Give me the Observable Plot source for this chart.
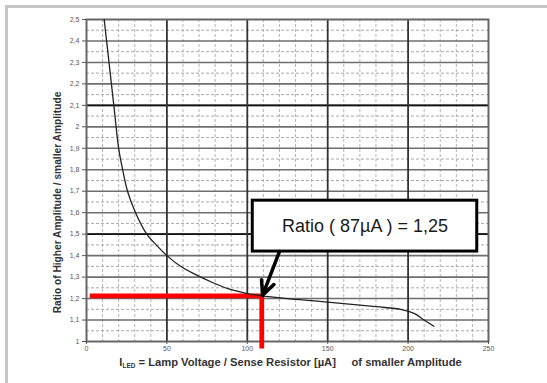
<!DOCTYPE html>
<html><head><meta charset="utf-8">
<script src="https://cdn.jsdelivr.net/npm/d3@7"></script>
<script src="https://cdn.jsdelivr.net/npm/@observablehq/plot@0.6"></script>
<style>
html,body{margin:0;padding:0;background:#fff;}
#wrap{position:relative;width:547px;height:383px;overflow:hidden;}
#border{position:absolute;left:5px;top:5px;right:-10px;bottom:-10px;border-top:3px solid #c6c6c6;border-left:3px solid #c6c6c6;pointer-events:none;}
</style></head><body><div id="wrap"></div>
<script>
// Curve: current (µA) vs ratio
const currentUA = [11, 14, 17, 20, 22.5, 25.5, 30.5, 37.5, 44, 50, 58, 67, 78, 88, 98, 109, 150, 180, 196, 204, 210, 216];
const ratio     = [2.5, 2.3, 2.1, 1.9, 1.8, 1.7, 1.6, 1.5, 1.445, 1.4, 1.353, 1.315, 1.276, 1.246, 1.227, 1.213, 1.183, 1.162, 1.149, 1.13, 1.1, 1.071];

// Red marker path (operating point)
const markerX = [2, 109, 109];
const markerY = [1.213, 1.213, 0.967];

// Annotation box and arrow
const boxX = [103.4, 243];
const boxY = [1.419, 1.656];
const boxText = "Ratio ( 87\u00b5A ) = 1,25";
const arrowFrom = [120, 1.419];
const arrowTo = [109.5, 1.215];

// Ticks
const xTicks = [0, 50, 100, 150, 200, 250];
const xTickLabels = ["0", "50", "100", "150", "200", "250"];
const yTicks = [1, 1.1, 1.2, 1.3, 1.4, 1.5, 1.6, 1.7, 1.8, 1.9, 2, 2.1, 2.2, 2.3, 2.4, 2.5];
const yTickLabels = ["1", "1,1", "1,2", "1,3", "1,4", "1,5", "1,6", "1,7", "1,8", "1,9", "2", "2,1", "2,2", "2,3", "2,4", "2,5"];

// Grid
const xMinor = [10, 20, 30, 40, 60, 70, 80, 90, 110, 120, 130, 140, 160, 170, 180, 190, 210, 220, 230, 240];
const xMajor = [50, 100, 150, 200];
const yMinor = [1.05, 1.15, 1.25, 1.35, 1.45, 1.55, 1.65, 1.75, 1.85, 1.95, 2.05, 2.15, 2.25, 2.35, 2.45];
const yMajor = [1.1, 1.2, 1.3, 1.4, 1.5, 1.6, 1.7, 1.8, 1.9, 2, 2.1, 2.2, 2.3, 2.4];
const yDark = [1.5, 2.1];

const yLabel = "Ratio of Higher Amplitude / smaller Amplitude";
const xLabelMain = "I";
const xLabelSub = "LED";
const xLabelRest = " = Lamp Voltage / Sense Resistor [\u00b5A]\u00a0\u00a0\u00a0\u00a0\u00a0of smaller Amplitude";

const curve = currentUA.map((x, i) => ({x, y: ratio[i]}));
const marker = markerX.map((x, i) => ({x, y: markerY[i]}));

const plot = Plot.plot({
  width: 547, height: 383,
  marginLeft: 86, marginRight: 59, marginTop: 19, marginBottom: 42,
  style: {fontFamily: "'Liberation Sans', Arial, sans-serif", background: "white"},
  x: {domain: [0, 250]},
  y: {domain: [1, 2.5]},
  marks: [
    Plot.ruleX(xMinor, {stroke: "#b5b5b5", strokeWidth: 1, strokeDasharray: "3,2"}),
    Plot.ruleY(yMinor, {stroke: "#a8a8a8", strokeWidth: 1, strokeDasharray: "3,2"}),
    Plot.ruleY(yMajor, {stroke: "#6e6e6e", strokeWidth: 1.6}),
    Plot.ruleY(yDark, {stroke: "#111", strokeWidth: 1.6}),
    Plot.ruleX(xMajor, {stroke: "#333", strokeWidth: 1.8}),
    Plot.frame({stroke: "#666", strokeWidth: 2}),
    Plot.line(marker, {x: "x", y: "y", stroke: "#ff0000", strokeWidth: 4.8, strokeLinejoin: "miter", strokeLinecap: "butt"}),
    Plot.line(curve, {x: "x", y: "y", stroke: "#222", strokeWidth: 1.3, curve: "catmull-rom"}),
    Plot.rect([{x1: boxX[0], x2: boxX[1], y1: boxY[0], y2: boxY[1]}], {x1: "x1", x2: "x2", y1: "y1", y2: "y2", fill: "white", stroke: "#000", strokeWidth: 3}),
    Plot.text([boxText], {x: (boxX[0] + boxX[1]) / 2, y: (boxY[0] + boxY[1]) / 2, text: d => d, fontSize: 18, fill: "#1a1a1a"}),
    Plot.arrow([{x1: arrowFrom[0], y1: arrowFrom[1], x2: arrowTo[0], y2: arrowTo[1]}], {x1: "x1", y1: "y1", x2: "x2", y2: "y2", stroke: "#000", strokeWidth: 3.5, headLength: 13, headAngle: 50}),
    Plot.axisY(yTicks, {anchor: "left", tickSize: 4, tickPadding: 3, fontSize: 7, fill: "#555", stroke: "#555", tickFormat: d => yTickLabels[yTicks.indexOf(d)], label: null}),
    Plot.axisX(xTicks, {anchor: "bottom", tickSize: 3, tickPadding: 2, fontSize: 7, fill: "#555", stroke: "#555", tickFormat: d => xTickLabels[xTicks.indexOf(d)], label: null}),
    Plot.text([yLabel], {frameAnchor: "left", textAnchor: "middle", rotate: -90, dx: -29, dy: 22, text: d => d, fontSize: 10.2, fontWeight: "bold", fill: "#333"}),
    Plot.text([xLabelMain + xLabelSub + xLabelRest], {frameAnchor: "bottom", textAnchor: "middle", dx: 3, dy: 24, text: d => d, fontSize: 11.2, fontWeight: "bold", fill: "#333"})
  ]
});

// Subscript in x label
d3.select(plot).selectAll("text").each(function() {
  if (this.textContent === xLabelMain + xLabelSub + xLabelRest) {
    const t = d3.select(this);
    t.text(null);
    t.append("tspan").text(xLabelMain);
    t.append("tspan").attr("font-size", 6.5).attr("dy", 2.5).text(xLabelSub);
    t.append("tspan").attr("dy", -2.5).text(xLabelRest);
  }
});

const wrap = document.getElementById("wrap");
wrap.appendChild(plot);
const b = document.createElement("div");
b.id = "border";
wrap.appendChild(b);
</script>
</body></html>
